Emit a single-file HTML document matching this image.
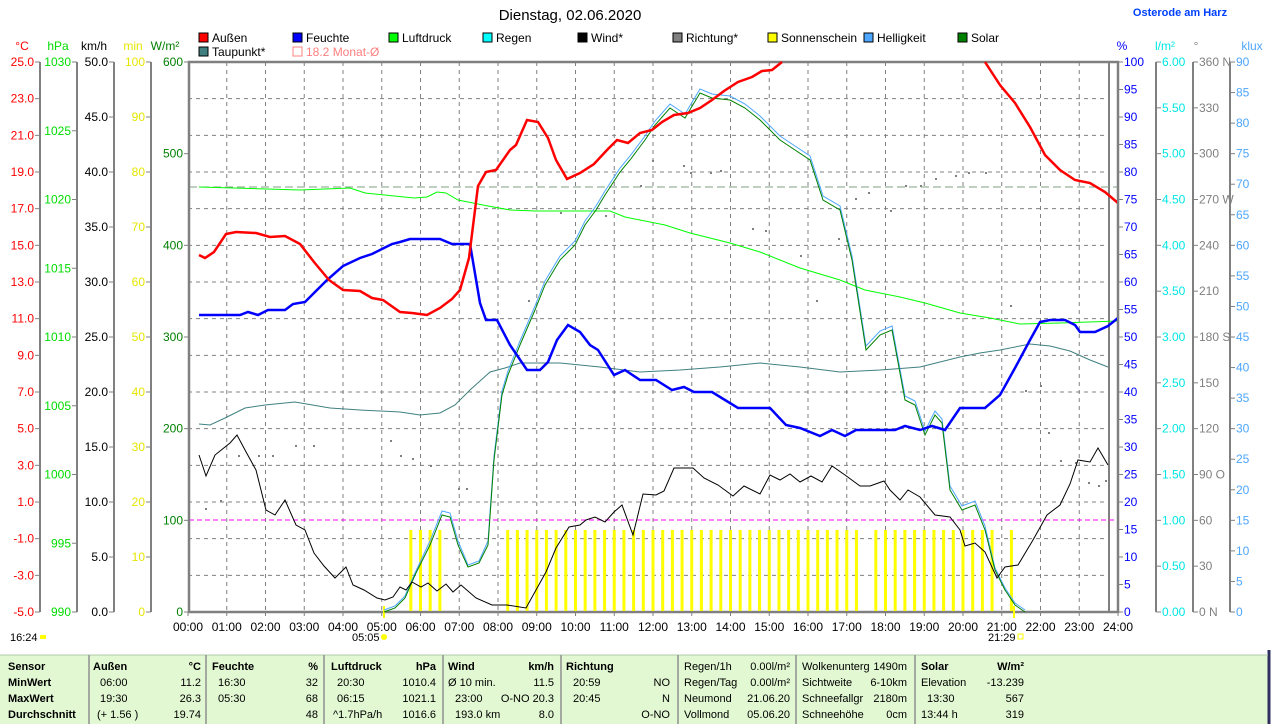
<!DOCTYPE html>
<html><head><meta charset="utf-8"><style>
body{margin:0;background:#fff;width:1274px;height:724px;overflow:hidden;font-family:"Liberation Sans",sans-serif}
svg{display:block}
text{font-family:"Liberation Sans",sans-serif;font-size:12px}
</style></head><body>
<svg id="s" width="1274" height="724" xmlns="http://www.w3.org/2000/svg">
<rect x="0" y="0" width="1274" height="724" fill="#fff"/>
<text x="570" y="20" text-anchor="middle" style="font-size:15px">Dienstag, 02.06.2020</text>
<text x="1180" y="16" text-anchor="middle" fill="#0040ff" style="font-size:11px;font-weight:bold">Osterode am Harz</text>
<g id="grid"></g>
<line x1="189" y1="187" x2="1118" y2="187" stroke="#80a080" stroke-dasharray="8,4"/>
<line x1="189" y1="520" x2="1118" y2="520" stroke="#ff00ff" stroke-dasharray="5,3"/>
<g id="bars" fill="#ffff00"></g>
<g id="dots" fill="#808080"></g>
<polyline fill="none" stroke="#00ff00" stroke-width="1" points="199,187 300,190 350,188 365,193 414,198 427,197 437,192 446,193 458,200 488,206 510,210 535,211 610,211 625,217 665,225 690,233 730,243 760,252 800,268 840,280 865,290 900,297 925,303 960,313 990,318 1020,324 1060,323 1118,321"/>
<polyline fill="none" stroke="#408080" stroke-width="1" points="199,424 210,425 225,418 245,408 265,405 295,402 330,408 360,410 400,412 420,415 440,413 455,405 470,390 490,372 505,368 520,363 560,363 600,367 640,372 680,370 720,367 760,363 800,367 840,372 880,370 920,367 960,357 980,353 1000,350 1030,344 1050,346 1070,351 1090,360 1108,367"/>
<polyline id="hell" fill="none" stroke="#4da6ff" stroke-width="1"/>
<polyline id="sol" fill="none" stroke="#008000" stroke-width="1"/>
<polyline fill="none" stroke="#000" stroke-width="1" points="199,455 206,476 215,455 230,443 237,435 245,450 256,470 266,510 275,515 285,500 296,525 305,530 314,553 324,566 335,578 346,567 353,585 364,590 377,598 385,600 393,597 400,587 406,590 412,582 421,587 428,583 437,591 446,584 453,592 461,585 476,598 492,605 507,605 526,608 536,590 546,572 556,548 569,527 580,525 586,520 595,517 605,522 614,512 622,505 633,535 643,494 656,495 664,491 674,468 693,468 704,478 718,485 733,496 744,486 760,494 770,475 780,480 790,474 800,482 811,476 822,482 832,466 845,475 860,486 870,486 884,481 890,490 900,500 908,490 920,497 935,515 950,517 960,530 965,546 975,543 985,552 997,578 1005,567 1018,565 1033,540 1047,515 1060,505 1070,484 1078,460 1090,462 1098,448 1108,465"/>
<polyline fill="none" stroke="#0000ff" stroke-width="2.5" points="199,315 240,315 248,312 258,315 268,310 285,310 293,304 305,302 315,292 327,280 343,266 360,258 372,254 384,248 392,244 400,242 410,239 440,239 452,244 470,244 480,303 486,320 497,320 510,345 527,370 540,370 548,362 557,340 568,325 580,332 590,345 598,350 614,375 625,370 640,380 656,380 672,390 684,387 694,392 712,392 725,400 738,408 770,408 786,425 800,428 820,436 832,430 845,436 856,430 895,430 905,426 920,430 932,426 945,430 960,408 985,408 1000,395 1015,368 1030,340 1040,322 1050,320 1065,320 1075,325 1080,332 1095,332 1108,326 1118,318"/>
<polyline fill="none" stroke="#ff0000" stroke-width="2.5" points="199,255 205,258 214,252 226,234 236,232 256,233 270,237 285,236 300,244 314,262 329,280 343,290 360,291 372,298 383,300 400,312 412,313 427,315 440,308 452,299 460,290 469,258 478,186 486,172 496,170 510,150 516,145 527,120 538,122 548,138 556,160 567,179 580,173 594,164 607,150 617,140 628,143 640,133 652,130 662,122 674,115 688,113 700,108 712,100 724,91 738,82 752,77 762,71 772,70 782,62"/>
<polyline fill="none" stroke="#ff0000" stroke-width="2.5" points="985,62 1000,85 1015,103 1030,127 1045,155 1060,170 1075,180 1090,183 1105,192 1118,203"/>
<g id="axes"></g>
<g id="legend"></g>
<text x="10" y="641" style="font-size:11px">16:24</text><rect x="40" y="635" width="6" height="4" fill="#ffff00"/>
<text x="352" y="641" style="font-size:11px">05:05</text><circle cx="384" cy="637" r="3" fill="#ffff00"/>
<text x="988" y="641" style="font-size:11px">21:29</text><rect x="1018" y="634" width="5" height="5" fill="none" stroke="#ffff00"/>
<g id="table"></g>
</svg>
<script>
const NS="http://www.w3.org/2000/svg";
function el(p,t,a,txt){const e=document.createElementNS(NS,t);for(const k in a)e.setAttribute(k,a[k]);if(txt!==undefined)e.textContent=txt;document.getElementById(p).appendChild(e);return e;}
const X0=188,HW=38.75,Y0=62,Y1=612;
for(let h=1;h<24;h++){const x=X0+h*HW;el('grid','line',{x1:x,y1:Y0,x2:x,y2:Y1,stroke:'#808080','stroke-dasharray':'4,4'});}
for(let i=1;i<15;i++){const y=Y0+i*(550/15);el('grid','line',{x1:X0,y1:y,x2:1109,y2:y,stroke:'#808080','stroke-dasharray':'4,4'});}
el('grid','rect',{x:189,y:62,width:929,height:550,fill:'none',stroke:'#808080','stroke-width':2.5});
el('grid','line',{x1:1109,y1:62,x2:1109,y2:612,stroke:'#808080','stroke-width':2});
for(let h=0;h<=24;h++){const x=X0+h*HW;el('grid','line',{x1:x,y1:612,x2:x,y2:616,stroke:'#808080'});
 el('grid','text',{x:x,y:631,'text-anchor':'middle'},(h<10?'0':'')+h+':00');}
const times=[5.75,6,6.25,6.5];for(let t=8.25;t<=17.26;t+=0.25)times.push(t);for(let t=17.75;t<=20.76;t+=0.25)times.push(t);times.push(21.25);
times.forEach(t=>el('bars','rect',{x:X0+t*HW-1.5,y:530,width:3,height:81}));
el('bars','rect',{x:383,y:606,width:2,height:12});el('bars','rect',{x:1013,y:606,width:2,height:12});
[[205,508],[220,500],[238,455],[258,455],[272,455],[295,445],[313,445],[390,440],[400,455],[412,458],[430,465],[458,488],[466,488],[528,300],[560,212],[605,215],[640,185],[652,160],[683,165],[690,172],[710,172],[720,170],[752,228],[765,230],[800,255],[816,300],[838,238],[855,198],[868,192],[890,210],[905,185],[920,185],[935,178],[955,175],[968,172],[985,172],[1010,305],[1025,390],[1040,385],[1048,432],[1060,460],[1075,462],[1088,482],[1098,485],[1105,480]].forEach(p=>el('dots','rect',{x:p[0],y:p[1],width:2,height:2}));
const sp=[[384,612],[395,608],[405,598],[415,575],[430,545],[442,515],[450,517],[458,545],[468,567],[479,563],[488,545],[494,460],[502,395],[508,375],[520,345],[535,310],[545,285],[560,260],[575,245],[585,225],[596,210],[605,195],[620,172],[630,160],[645,140],[655,125],[670,108],[685,118],[700,93],[712,98],[730,100],[745,108],[760,120],[780,140],[795,150],[810,160],[823,200],[840,210],[852,260],[866,350],[880,335],[892,330],[905,400],[915,405],[925,435],[935,415],[942,423],[950,490],[962,510],[975,505],[985,530],[995,570],[1005,590],[1015,605],[1025,612]];
document.getElementById('sol').setAttribute('points',sp.map(p=>p.join(',')).join(' '));
document.getElementById('hell').setAttribute('points',sp.map(p=>p[0]+','+(p[1]<560?p[1]-4:p[1]-2)).join(' '));
function axis(xl,col,labs,unit,ux,right){
 el('axes','line',{x1:xl,y1:Y0,x2:xl,y2:Y1,stroke:'#808080','stroke-width':2});
 el('axes','text',{x:ux,y:50,fill:col,'text-anchor':'middle'},unit);
 const n=labs.length;labs.forEach((l,i)=>{const y=Y1-(i/(n-1))*550;
  el('axes','line',{x1:right?xl:xl-5,y1:y,x2:right?xl+5:xl,y2:y,stroke:'#808080'});
  el('axes','text',{x:right?xl+6:xl-6,y:y+4,fill:col,'text-anchor':right?'start':'end'},l);});}
let a=[];for(let v=-5;v<=25;v+=2)a.push(v.toFixed(1));axis(40,'#ff0000',a,'°C',22,false);
a=[];for(let v=990;v<=1030;v+=5)a.push(''+v);axis(77,'#00dd00',a,'hPa',58,false);
a=[];for(let v=0;v<=50;v+=5)a.push(v.toFixed(1));axis(114,'#000',a,'km/h',94,false);
a=[];for(let v=0;v<=100;v+=10)a.push(''+v);axis(151,'#e6e600',a,'min',133,false);
a=[];for(let v=0;v<=600;v+=100)a.push(''+v);axis(189,'#008000',a,'W/m²',165,false);
a=[];for(let v=0;v<=100;v+=5)a.push(''+v);axis(1118,'#0000ff',a,'%',1122,true);
a=[];for(let v=0;v<=6;v+=0.5)a.push(v.toFixed(2));axis(1156,'#00e6e6',a,'l/m²',1165,true);
a=[];const dn={0:'0 N',90:'90 O',180:'180 S',270:'270 W',360:'360 N'};for(let v=0;v<=360;v+=30)a.push(dn[v]||''+v);axis(1193,'#808080',a,'°',1196,true);
a=[];for(let v=0;v<=90;v+=5)a.push(''+v);axis(1230,'#4da6ff',a,'klux',1252,true);
[['Außen','#ff0000',199,38],['Feuchte','#0000ff',293,38],['Luftdruck','#00ff00',389,38],['Regen','#00ffff',483,38],['Wind*','#000',578,38],['Richtung*','#808080',673,38],['Sonnenschein','#ffff00',768,38],['Helligkeit','#4da6ff',864,38],['Solar','#008000',958,38],['Taupunkt*','#408080',199,52]].forEach(l=>{
 el('legend','rect',{x:l[2],y:l[3]-5,width:9,height:9,fill:l[1],stroke:'#000'});
 el('legend','text',{x:l[2]+13,y:l[3]+4},l[0]);});
el('legend','rect',{x:293,y:47,width:9,height:9,fill:'none',stroke:'#ff8080'});
el('legend','text',{x:306,y:56,fill:'#ff8080'},'18.2 Monat-Ø');
el('table','rect',{x:0,y:655,width:1268,height:69,fill:'#e2f8d2'});
el('table','line',{x1:1269,y1:650,x2:1269,y2:724,stroke:'#303060','stroke-width':3});
el('table','line',{x1:0,y1:655,x2:1268,y2:655,stroke:'#b0c8a8'});
[89,206,324,443,561,678,796,915].forEach(x=>el('table','line',{x1:x,y1:655,x2:x,y2:724,stroke:'#909090','stroke-width':1.5}));
const rows=[670,686,702,718];
function T(x,r,s,anchor,bold){el('table','text',{x:x,y:rows[r],'text-anchor':anchor||'start','font-weight':bold?'bold':'normal',style:'font-size:11px'},s);}
['Sensor','MinWert','MaxWert','Durchschnitt'].forEach((s,i)=>T(8,i,s,'start',true));
T(93,0,'Außen','start',true);T(201,0,'°C','end',true);T(100,1,'06:00');T(201,1,'11.2','end');T(100,2,'19:30');T(201,2,'26.3','end');T(97,3,'(+ 1.56 )');T(201,3,'19.74','end');
T(212,0,'Feuchte','start',true);T(318,0,'%','end',true);T(218,1,'16:30');T(318,1,'32','end');T(218,2,'05:30');T(318,2,'68','end');T(318,3,'48','end');
T(331,0,'Luftdruck','start',true);T(436,0,'hPa','end',true);T(337,1,'20:30');T(436,1,'1010.4','end');T(337,2,'06:15');T(436,2,'1021.1','end');T(333,3,'^1.7hPa/h');T(436,3,'1016.6','end');
T(448,0,'Wind','start',true);T(554,0,'km/h','end',true);T(448,1,'Ø 10 min.');T(554,1,'11.5','end');T(455,2,'23:00');T(554,2,'O-NO 20.3','end');T(455,3,'193.0 km');T(554,3,'8.0','end');
T(566,0,'Richtung','start',true);T(573,1,'20:59');T(670,1,'NO','end');T(573,2,'20:45');T(670,2,'N','end');T(670,3,'O-NO','end');
T(684,0,'Regen/1h');T(790,0,'0.00l/m²','end');T(684,1,'Regen/Tag');T(790,1,'0.00l/m²','end');T(684,2,'Neumond');T(790,2,'21.06.20','end');T(684,3,'Vollmond');T(790,3,'05.06.20','end');
T(802,0,'Wolkenunterg');T(907,0,'1490m','end');T(802,1,'Sichtweite');T(907,1,'6-10km','end');T(802,2,'Schneefallgr');T(907,2,'2180m','end');T(802,3,'Schneehöhe');T(907,3,'0cm','end');
T(921,0,'Solar','start',true);T(1024,0,'W/m²','end',true);T(921,1,'Elevation');T(1024,1,'-13.239','end');T(927,2,'13:30');T(1024,2,'567','end');T(921,3,'13:44 h');T(1024,3,'319','end');
</script>
</body></html>
